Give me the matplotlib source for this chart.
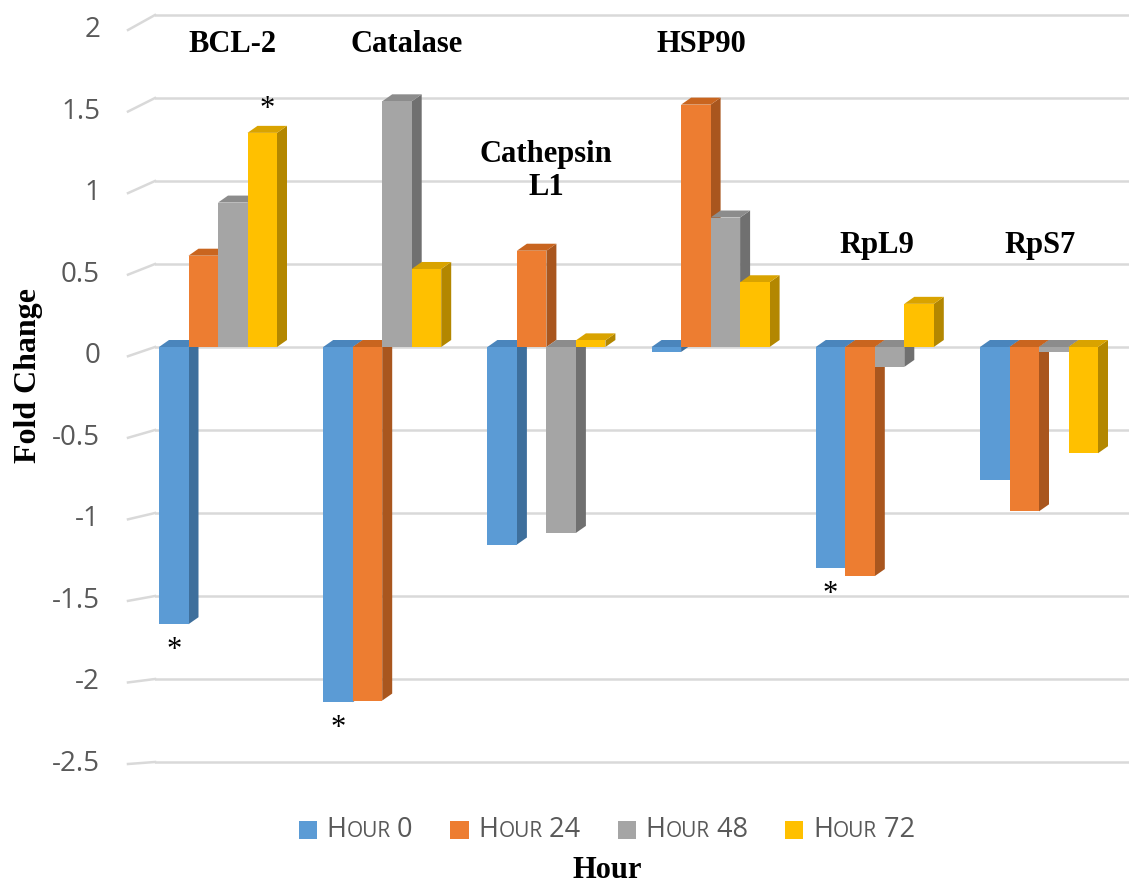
import matplotlib
matplotlib.use("Agg")
import matplotlib.pyplot as plt
import numpy as np
from matplotlib.patches import Polygon, Rectangle
from matplotlib.lines import Line2D
from matplotlib.offsetbox import HPacker, TextArea, DrawingArea, AnchoredOffsetbox
from matplotlib.transforms import ScaledTranslation, IdentityTransform

# ---------------- data ----------------
genes = ["BCL-2", "Catalase", "Cathepsin\nL1", "HSP90", "RpL9", "RpS7"]
series = ["Hour 0", "Hour 24", "Hour 48", "Hour 72"]
hour0 = [-1.67, -2.14, -1.19, -0.03, -1.33, -0.80]
hour24 = [0.55, -2.13, 0.58, 1.46, -1.38, -0.99]
hour48 = [0.87, 1.48, -1.12, 0.78, -0.12, -0.03]
hour72 = [1.29, 0.47, 0.04, 0.39, 0.26, -0.64]
values = [hour0, hour24, hour48, hour72]
yticks = [2, 1.5, 1, 0.5, 0, -0.5, -1, -1.5, -2, -2.5]
ytick_labels = ["2", "1.5", "1", "0.5", "0", "-0.5", "-1", "-1.5", "-2", "-2.5"]
# (gene index, series index) marked significant
significant = [(0, 0), (0, 3), (1, 0), (4, 0)]

# ---------------- style ----------------
front = ["#5B9BD5", "#ED7D31", "#A5A5A5", "#FFC000"]
side = ["#3E6F9C", "#A9561E", "#707070", "#B38700"]
top = ["#4A85BC", "#C9651F", "#8C8C8C", "#D9A300"]
label_px = [(232, 45), (407, 45), (546, 171), (701, 45), (877, 245), (1040, 245)]
W, H = 1129, 888
serif = ["Liberation Serif", "DejaVu Serif"]
grey_txt = "#595959"
sans = ["Open Sans", "DejaVu Sans"]

fig = plt.figure(figsize=(W / 100, H / 100), dpi=100)
ax_left, ax_right, ax_top, ax_bot = 155, 1129, 0, 805
ax = fig.add_axes([ax_left / W, (H - ax_bot) / H, (ax_right - ax_left) / W, (ax_bot - ax_top) / H])
px_x, px_y = 164.2, 166.0
zero_px, grp0_px = 347, 159
ax.set_xlim((ax_left - grp0_px) / px_x, (ax_right - grp0_px) / px_x)
ax.set_ylim(-(ax_bot - zero_px) / px_y, zero_px / px_y)
for s in ax.spines.values():
    s.set_visible(False)
ax.set_xticks([])
ax.set_yticks([])

# gridlines (back wall) with perspective diagonals and labels
ytrans = ax.get_yaxis_transform()
for v, lab in zip(yticks, ytick_labels):
    ax.axhline(v, color="#D9D9D9", lw=1.8, zorder=1)
    off = 2 + (v + 2.5) * 13 / 4.5
    yd = ax.transData.transform((0, v))[1]
    fig.add_artist(Line2D([128, ax_left], [yd - off, yd], transform=IdentityTransform(),
                          color="#D9D9D9", lw=1.8))
    ax.text(-55 / (ax_right - ax_left), v, lab,
            transform=ytrans + ScaledTranslation(0, -off / 100, fig.dpi_scale_trans),
            ha="right", va="center", fontsize=20, color=grey_txt, family=sans)

# 3D bars
width = 29.5 / px_x
dx = 10 / px_x
dy = 7 / px_y
x = np.arange(len(genes))
for j, vals in enumerate(values):
    for i, h in enumerate(vals):
        x0 = x[i] + j * width
        xr = x0 + width
        lo, hi = min(0, h), max(0, h)
        ax.add_patch(Polygon([(xr, lo), (xr + dx, lo + dy), (xr + dx, hi + dy), (xr, hi)],
                             closed=True, fc=side[j], ec="none", zorder=3))
        ax.add_patch(Polygon([(x0, hi), (x0 + dx, hi + dy), (xr + dx, hi + dy), (xr, hi)],
                             closed=True, fc=top[j], ec="none", zorder=3))
for j, vals in enumerate(values):
    ax.bar(x + j * width, vals, width, align="edge", color=front[j], linewidth=0, zorder=5)

# significance stars
for gi, sj in significant:
    h = values[sj][gi]
    cx = x[gi] + sj * width + width / 2
    if h < 0:
        ax.annotate("*", (cx, h), xytext=(0, -19), textcoords="offset points",
                    ha="center", va="center", fontsize=22, family=serif, zorder=6)
    else:
        ax.annotate("*", (cx + dx / 2, h), xytext=(0, 17), textcoords="offset points",
                    ha="center", va="center", fontsize=22, family=serif, zorder=6)

# gene labels
for g, (lx, ly) in zip(genes, label_px):
    ax.text((lx - grp0_px) / px_x, (zero_px - ly) / px_y, g, ha="center", va="center",
            fontsize=22, fontweight="bold", family=serif, linespacing=1.2, zorder=7)

# axis titles
fig.text(29 / W, 1 - 375 / H, "Fold Change", rotation=90, ha="center", va="center",
         fontsize=23, fontweight="bold", family=serif)
fig.text(607 / W, 1 - 870 / H, "Hour", ha="center", va="center",
         fontsize=22, fontweight="bold", family=serif)

# legend with small caps
entries = []
for j, name in enumerate(series):
    word, num = name.split()
    da = DrawingArea(13, 13, 0, 0)
    da.add_artist(Rectangle((0, 0), 13, 13, fc=front[j], ec="none"))
    tp_big = dict(size=19.5, color=grey_txt, family=sans)
    tp_small = dict(size=15, color=grey_txt, family=sans)
    txt = HPacker(children=[TextArea(word[0].upper(), textprops=tp_big),
                            TextArea(word[1:].upper(), textprops=tp_small),
                            TextArea(" " + num, textprops=tp_big)],
                  align="baseline", pad=0, sep=0)
    entries.append(HPacker(children=[da, txt], align="center", pad=0, sep=7))
legend_box = HPacker(children=entries, align="center", pad=0, sep=27)
anch = AnchoredOffsetbox(loc="center", child=legend_box, pad=0, borderpad=0, frameon=False,
                         bbox_to_anchor=(607 / W, 1 - 830 / H), bbox_transform=fig.transFigure)
fig.add_artist(anch)

fig.savefig("out.png", dpi=100, facecolor="white")
